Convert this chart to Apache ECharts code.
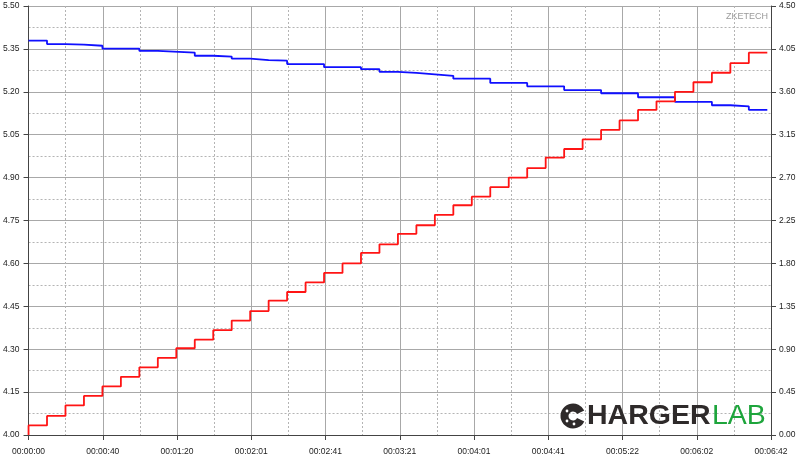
<!DOCTYPE html>
<html>
<head>
<meta charset="utf-8">
<script src="https://cdn.jsdelivr.net/npm/echarts@6/dist/echarts.min.js"></script>
<style>
html,body{margin:0;padding:0;background:#fff;}
#chart{width:800px;height:458px;}
</style>
</head>
<body>
<div id="chart"></div>
<script>
// ---- data ----
const xTickLabels = ['00:00:00','00:00:40','00:01:20','00:02:01','00:02:41','00:03:21','00:04:01','00:04:41','00:05:22','00:06:02','00:06:42'];
const leftTickLabels = ['4.00','4.15','4.30','4.45','4.60','4.75','4.90','5.05','5.20','5.35','5.50'];
const rightTickLabels = ['0.00','0.45','0.90','1.35','1.80','2.25','2.70','3.15','3.60','4.05','4.50'];

const voltTimes = [0,10,20,30,40,60,70,90,100,110,120,130,140,160,180,190,200,210,220,230,250,270,290,310,330,350,370,380,390,400];
const voltValues = [5.379,5.367,5.365,5.361,5.351,5.343,5.337,5.326,5.323,5.316,5.311,5.309,5.297,5.286,5.279,5.270,5.266,5.261,5.256,5.246,5.231,5.219,5.206,5.195,5.181,5.165,5.153,5.149,5.137,5.137];

const currTimes = [0,0,10,20,30,40,50,60,70,80,90,100,110,120,130,140,150,160,170,180,190,200,210,220,230,240,250,260,270,280,290,300,310,320,330,340,350,360,370,380,390,400];
const currValues = [0,0.10,0.20,0.31,0.41,0.51,0.61,0.71,0.81,0.91,1.00,1.10,1.20,1.30,1.41,1.50,1.60,1.70,1.80,1.91,2.00,2.11,2.20,2.31,2.41,2.50,2.60,2.70,2.80,2.91,3.00,3.10,3.20,3.30,3.41,3.50,3.60,3.70,3.80,3.90,4.01,4.01];

const voltData = voltTimes.map((t, i) => [t, voltValues[i]]);
const currData = currTimes.map((t, i) => [t, currValues[i]]);

const chart = echarts.init(document.getElementById('chart'), null, {renderer: 'canvas'});
const labelFont = {fontFamily: 'Liberation Sans, Arial, sans-serif', fontSize: 8.5, color: '#222'};
const majorLine = {color: '#a8a8a8', width: 1, type: 'solid'};
const minorLine = {color: '#b4b4b4', width: 1, type: [2, 2]};

chart.setOption({
  animation: false,
  backgroundColor: '#ffffff',
  grid: {left: 28, right: 29, top: 6, bottom: 23, containLabel: false},
  xAxis: {
    type: 'value', min: 0, max: 402, interval: 40.2,
    axisLine: {show: true, lineStyle: {color: '#444', width: 1}},
    axisTick: {show: true, length: 5, lineStyle: {color: '#444'}},
    axisLabel: Object.assign({margin: 12, formatter: v => xTickLabels[Math.round(v / 40.2)] || ''}, labelFont),
    splitLine: {show: true, lineStyle: majorLine},
    minorTick: {show: false, splitNumber: 2},
    minorSplitLine: {show: true, lineStyle: minorLine}
  },
  yAxis: [
    {
      type: 'value', min: 4.0, max: 5.5, interval: 0.15, position: 'left',
      axisLine: {show: true, lineStyle: {color: '#444', width: 1}},
      axisTick: {show: true, length: 5, lineStyle: {color: '#444'}},
      axisLabel: Object.assign({margin: 9, formatter: v => leftTickLabels[Math.round((v - 4) / 0.15)] || ''}, labelFont),
      splitLine: {show: true, lineStyle: majorLine},
      minorTick: {show: false, splitNumber: 2},
      minorSplitLine: {show: true, lineStyle: minorLine}
    },
    {
      type: 'value', min: 0, max: 4.5, interval: 0.45, position: 'right',
      axisLine: {show: true, lineStyle: {color: '#444', width: 1}},
      axisTick: {show: true, length: 5, lineStyle: {color: '#444'}},
      axisLabel: Object.assign({margin: 8, formatter: v => rightTickLabels[Math.round(v / 0.45)] || ''}, labelFont),
      splitLine: {show: false}
    }
  ],
  series: [
    {
      name: 'Voltage', type: 'line', yAxisIndex: 0, step: 'end', data: voltData,
      showSymbol: false, lineStyle: {color: '#1010ff', width: 1.8}, itemStyle: {color: '#1010ff'}, z: 3
    },
    {
      name: 'Current', type: 'line', yAxisIndex: 1, step: 'end', data: currData,
      showSymbol: false, lineStyle: {color: '#ff1414', width: 1.8}, itemStyle: {color: '#ff1414'}, z: 4
    }
  ],
  graphic: [
    {type: 'text', right: 32, top: 12, z: 10,
     style: {text: 'ZKETECH', fill: '#9a9a9a', font: '9px Liberation Sans, Arial, sans-serif'}},
    {type: 'arc', z: 10,
     shape: {cx: 573, cy: 416, r: 8.5, startAngle: 0.45, endAngle: -0.45, clockwise: true},
     style: {stroke: '#2e2a2a', lineWidth: 8, fill: null}},
    {type: 'circle', z: 11, shape: {cx: 567, cy: 411, r: 1.4}, style: {fill: '#ffffff'}},
    {type: 'circle', z: 11, shape: {cx: 567, cy: 421, r: 1.4}, style: {fill: '#ffffff'}},
    {type: 'circle', z: 11, shape: {cx: 574, cy: 424, r: 1.4}, style: {fill: '#ffffff'}},
    {type: 'text', x: 587, y: 416, z: 10,
     style: {text: 'HARGER', fill: '#2e2a2a', font: 'bold 28.5px Liberation Sans, Arial, sans-serif', verticalAlign: 'middle', align: 'left'}},
    {type: 'text', x: 712, y: 416, z: 10,
     style: {text: 'LAB', fill: '#1ea53c', font: '28.5px Liberation Sans, Arial, sans-serif', verticalAlign: 'middle', align: 'left'}}
  ]
});
</script>
</body>
</html>
